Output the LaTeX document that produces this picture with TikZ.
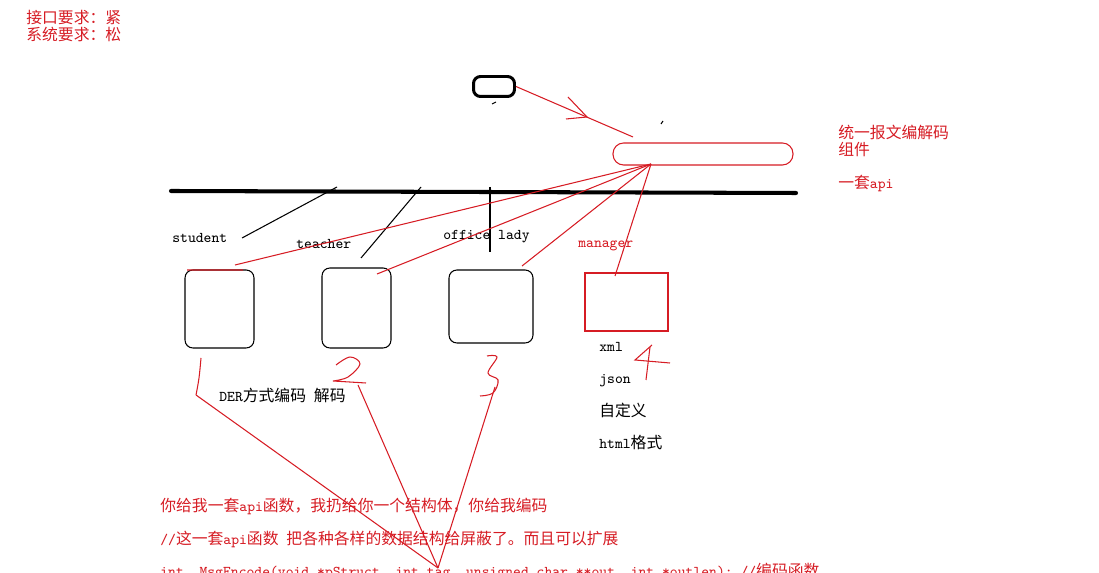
\documentclass[tikz,border=0pt]{standalone}
\usepackage{fontspec}
\newfontfamily\cjk{Noto Sans CJK SC}
\usetikzlibrary{positioning}
\definecolor{pen}{RGB}{214,28,36}
\newcommand\hz[1]{{\cjk\fontsize{9}{10}\selectfont #1}}
\tikzstyle{blacktext} = [inner sep=0pt, anchor=west, font=\ttfamily\fontsize{8.5}{10}\selectfont, text height=7pt, text depth=2pt]
\tikzstyle{redtext} = [blacktext, text=pen]
\tikzstyle{client} = [rectangle, rounded corners=4.5pt, draw=black, line width=0.6pt, inner sep=0pt, outer sep=0pt]
\tikzstyle{mgrbox} = [rectangle, draw=pen, line width=0.6pt, inner sep=0pt, outer sep=0pt]
\tikzstyle{codec} = [rectangle, rounded corners=6pt, draw=pen, line width=0.6pt, minimum width=3.6cm, minimum height=0.44cm, inner sep=0pt]
\tikzstyle{caller} = [rectangle, rounded corners=4pt, draw=black, line width=1.7pt, minimum width=0.82cm, minimum height=0.4cm, inner sep=0pt]
\tikzstyle{bus} = [line width=2.3pt, line cap=round]
\tikzstyle{wire} = [line width=0.6pt]
\tikzstyle{redwire} = [line width=0.6pt, draw=pen]

\begin{document}
\begin{tikzpicture}[x=0.02cm, y=-0.02cm]
    \useasboundingbox (0,0) rectangle (1099,573);

    \node (ifreq) [redtext] at (26,19) {\hz{接口要求：紧}};
    \node (sysreq) [redtext] at (26,36) {\hz{系统要求：松}};

    \node (caller) [caller] at (494,86.5) {};
    \node (codec) [codec] at (703,154) {};
    \node (codectxt) [redtext] at (838,134) {\hz{统一报文编解码}};
    \node (codecsub) [redtext] at (838,151) {\hz{组件}};
    \node (api) [redtext] at (838,184) {\hz{一套}api};

    \coordinate (busl) at (171,191);
    \coordinate (busr) at (796,193);

    \node (lblstu) [blacktext] at (172,238) {student};
    \node (lbltea) [blacktext] at (296,244) {teacher};
    \node (lblol) [blacktext] at (443,235) {office lady};
    \node (lblmgr) [redtext] at (578,243) {manager};

    \node (boxstu) [client, minimum width=1.38cm, minimum height=1.56cm] at (219.5,309) {};
    \node (boxtea) [client, minimum width=1.38cm, minimum height=1.6cm] at (356.5,308) {};
    \node (boxol) [client, minimum width=1.68cm, minimum height=1.46cm] at (491,306.5) {};
    \node (boxmgr) [mgrbox, minimum width=1.66cm, minimum height=1.16cm] at (626.5,302) {};

    \node (der) [blacktext] at (219,397) {DER\hz{方式编码} \hz{解码}};
    \node (xml) [blacktext] at (599,347) {xml};
    \node (json) [blacktext, below=0.32cm of xml.south west, anchor=north west] {json};
    \node (custom) [blacktext, below=0.32cm of json.south west, anchor=north west] {\hz{自定义}};
    \node (html) [blacktext, below=0.32cm of custom.south west, anchor=north west] {html\hz{格式}};

    \node (note1) [redtext] at (160,507) {\hz{你给我一套}api\hz{函数，我扔给你一个结构体，你给我编码}};
    \node (note2) [redtext] at (160,540) {//\hz{这一套}api\hz{函数} \hz{把各种各样的数据结构给屏蔽了。而且可以扩展}};
    \node (note3) [redtext] at (160,572) {int\ \ MsgEncode(void *pStruct, int tag, unsigned char **out, int *outlen); //\hz{编码函数}};

    % hand strokes
    \coordinate (hub) at (651,164);
    \coordinate (conv) at (438,568);
    \coordinate (callend) at (633,137);
    \coordinate (tipstu) at (235,265);
    \coordinate (tiptea) at (377,274);
    \coordinate (tipol) at (522,266);
    \coordinate (tipmgr) at (615,276);

    \draw [bus] (busl) -- (busr);
    \draw [wire] (242,238) -- (337,187);
    \draw [wire] (361,258) -- (421,187);
    \draw [wire] (490,187) -- (490,252);
    \draw [wire] (492,104) -- (496,102);
    \draw [wire] (661,124) -- (663,121);

    \draw [redwire] (caller.east) -- (callend);
    \draw [redwire] (568,97) -- (587,117) -- (566,119);
    \draw [redwire] (hub) -- (tipstu);
    \draw [redwire] (hub) -- (tiptea);
    \draw [redwire] (hub) -- (tipol);
    \draw [redwire] (hub) -- (tipmgr);
    \draw [redwire] (boxstu.north west) ++(2,0) -- (243,270);

    \draw [redwire] plot[smooth, tension=0.6] coordinates {(201,358) (199,378) (196,395)};
    \draw [redwire] plot[smooth, tension=0.6] coordinates {(336,365) (350,357) (360,364) (348,377) (333,381)} -- (366,383);
    \draw [redwire] plot[smooth, tension=0.6] coordinates {(487,356) (497,357) (488,373) (498,380) (493,393) (480,396)};
    \draw [redwire] (652,345) -- (635,360) -- (670,363);
    \draw [redwire] (650,347) -- (646,380);

    \draw [redwire] (196,395) -- (conv);
    \draw [redwire] (358,385) -- (conv);
    \draw [redwire] (495,387) -- (conv);

\end{tikzpicture}
\end{document}
